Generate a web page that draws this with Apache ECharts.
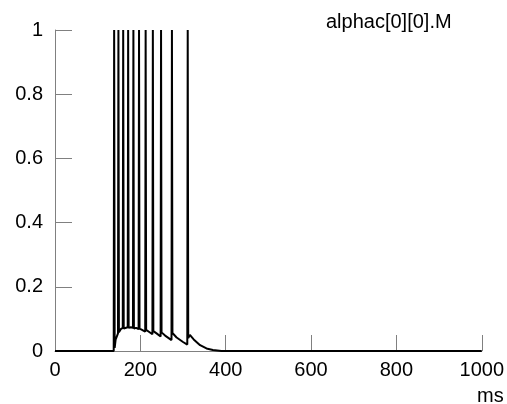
<!DOCTYPE html>
<html><head><meta charset="utf-8">
<script src="https://cdn.jsdelivr.net/npm/echarts@6/dist/echarts.min.js"></script>
<style>html,body{margin:0;padding:0;background:#fff}#c{width:507px;height:404px}</style>
</head><body><div id="c"></div>
<script>
var seriesName = 'alphac[0][0].M';
var xUnit = 'ms';
var xTicks = [0, 200, 400, 600, 800, 1000];
var yTicks = [0, 0.2, 0.4, 0.6, 0.8, 1];
// time (ms)
var times = [0,137.6,138.6,139.8,142,147.6,148.6,149.8,154,158.8,159.8,161,165,170.4,171.4,172.6,178,182.7,183.7,184.9,190,195.9,196.9,198.1,204,211.4,212.4,213.6,220,228.3,229.3,230.5,238,247.5,248.5,249.7,258,273,274,275.2,285,300,310,311,312.2,316,325,340,355,370,390,1000];
// M value
var values = [0,0,1,0.01,0.035,0.055,1,0.058,0.068,0.072,1,0.07,0.074,0.074,1,0.072,0.074,0.072,1,0.07,0.072,0.068,1,0.07,0.066,0.06,1,0.066,0.06,0.052,1,0.062,0.055,0.045,1,0.058,0.048,0.034,1,0.056,0.042,0.028,0.02,1,0.04,0.05,0.036,0.018,0.008,0.003,0,0];

var data = times.map(function(t,i){return [t, values[i]];});
var chart = echarts.init(document.getElementById('c'), null, {renderer:'canvas'});
var font = 'Liberation Sans, Arial, sans-serif';
var fs = 20;
chart.setOption({
  animation:false,
  title:[
    {text:seriesName, left:321, top:7, textStyle:{fontFamily:font,fontSize:fs,fontWeight:'normal',color:'#000'}},
    {text:xUnit, left:472, top:381, textStyle:{fontFamily:font,fontSize:fs,fontWeight:'normal',color:'#000'}}
  ],
  grid:{left:55,right:20,top:30,bottom:53,containLabel:false},
  xAxis:{type:'value',min:xTicks[0],max:xTicks[xTicks.length-1],interval:200,
    axisLine:{show:true,lineStyle:{color:'#808080',width:1}},
    axisTick:{show:true,inside:true,length:16,lineStyle:{color:'#808080'}},
    axisLabel:{fontFamily:font,fontSize:fs,color:'#000',margin:9,formatter:function(v){return String(v);}},
    splitLine:{show:false}},
  yAxis:{type:'value',min:0,max:1,interval:0.2,
    axisLine:{show:true,lineStyle:{color:'#808080',width:1}},
    axisTick:{show:true,inside:true,length:17,lineStyle:{color:'#808080'}},
    axisLabel:{fontFamily:font,fontSize:fs,color:'#000',margin:12,formatter:function(v){return String(Math.round(v*10)/10);}},
    splitLine:{show:false}},
  series:[{type:'line',data:data,showSymbol:false,symbol:'none',
    lineStyle:{color:'#000',width:2},clip:true}]
});
</script></body></html>
